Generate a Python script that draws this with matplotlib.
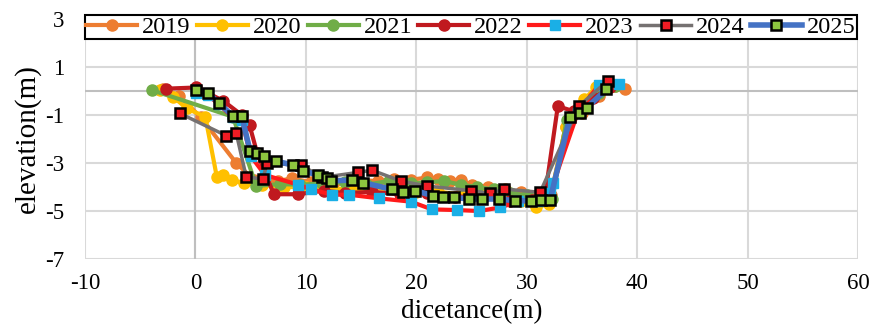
import matplotlib
matplotlib.use("Agg")
import matplotlib.pyplot as plt

plt.rcParams['font.family'] = ['Liberation Serif', 'DejaVu Serif']
plt.rcParams['axes.unicode_minus'] = False

# profile data
x19 = [-2.9, -1.5, 0.5, 3.7, 5.3, 7.5, 8.7, 10.5, 12.5, 14.5, 16.5, 18.0, 19.5, 21.0, 22.0, 23.0, 24.0, 25.0, 26.5, 28.0, 29.5, 31.0, 32.2, 33.5, 35.0, 36.5, 38.0, 38.9]
y19 = [0.1, -0.2, -1.1, -3.0, -3.7, -3.75, -3.64, -3.8, -3.8, -3.7, -3.75, -3.65, -3.7, -3.6, -3.65, -3.75, -3.7, -3.9, -4.0, -4.1, -4.2, -4.4, -4.35, -1.5, -0.9, -0.2, 0.2, 0.1]

x20 = [-3.2, -2.0, -0.8, 0.9, 1.95, 2.5, 3.3, 4.4, 6.0, 8.0, 10.0, 12.0, 14.0, 16.0, 18.0, 20.0, 22.0, 24.0, 26.0, 28.0, 29.5, 30.8, 32.0, 33.5, 35.2, 36.3]
y20 = [0.04, -0.24, -0.72, -1.07, -3.6, -3.5, -3.7, -3.85, -3.9, -4.0, -4.0, -4.05, -4.1, -4.05, -4.1, -4.2, -4.2, -4.3, -4.35, -4.4, -4.6, -4.85, -4.7, -1.5, -0.35, 0.18]

x21 = [-3.95, 3.4, 5.5, 7.7, 9.5, 11.5, 13.5, 15.5, 17.5, 19.5, 21.0, 22.5, 24.0, 25.5, 27.0, 28.5, 30.0, 31.2, 32.3, 33.6, 35.0, 36.5, 38.0]
y21 = [0.04, -1.07, -3.95, -3.88, -3.9, -3.85, -3.8, -3.9, -3.75, -3.85, -3.8, -3.75, -3.9, -4.0, -4.1, -4.25, -4.35, -4.45, -4.5, -1.2, -0.8, -0.1, 0.2]

x22 = [-2.7, 0.1, 2.5, 4.2, 4.9, 5.6, 7.1, 9.3, 11.6, 13.5, 16.0, 18.5, 21.0, 23.5, 26.0, 28.5, 30.5, 31.6, 32.8, 34.3, 36.0, 37.5]
y22 = [0.1, 0.15, -0.4, -1.0, -1.42, -2.6, -4.3, -4.3, -4.15, -4.25, -4.2, -4.3, -4.25, -4.4, -4.4, -4.6, -4.55, -4.5, -0.63, -0.85, -0.3, 0.15]

x23 = [0.1, 1.1, 2.1, 3.4, 4.2, 5.0, 6.3, 9.3, 10.5, 12.4, 13.9, 16.6, 19.5, 21.4, 23.7, 25.7, 27.6, 29.2, 31.0, 32.1, 32.4, 34.6, 36.5, 38.3]
y23 = [-0.1, -0.15, -0.55, -1.1, -1.2, -2.7, -3.5, -3.9, -4.1, -4.32, -4.32, -4.47, -4.61, -4.93, -4.96, -5.0, -4.85, -4.6, -4.6, -4.26, -3.85, -0.9, 0.25, 0.3]

x24 = [-1.4, 2.8, 3.7, 4.6, 6.1, 6.5, 9.6, 11.5, 14.7, 16.0, 18.6, 21.0, 24.9, 26.7, 27.9, 31.2, 34.7, 37.3]
y24 = [-0.93, -1.86, -1.76, -3.57, -3.67, -3.0, -3.1, -3.6, -3.39, -3.3, -3.75, -3.96, -4.15, -4.26, -4.08, -4.22, -0.63, 0.42]

x25 = [0.1, 1.1, 2.1, 3.4, 4.2, 4.95, 5.55, 6.2, 7.3, 8.8, 9.7, 11.1, 11.9, 12.3, 14.2, 15.2, 17.8, 18.8, 19.9, 21.5, 22.4, 23.4, 24.8, 25.9, 27.5, 28.9, 30.4, 31.3, 32.1, 33.9, 34.8, 35.4, 37.2]
y25 = [0.04, -0.06, -0.49, -1.04, -1.04, -2.5, -2.6, -2.7, -2.92, -3.08, -3.32, -3.5, -3.64, -3.74, -3.71, -3.82, -4.1, -4.2, -4.15, -4.36, -4.43, -4.43, -4.5, -4.5, -4.5, -4.57, -4.57, -4.54, -4.54, -1.07, -0.93, -0.7, 0.07]

xticks = [-10, 0, 10, 20, 30, 40, 50, 60]
yticks = [3, 1, -1, -3, -5, -7]

fig = plt.figure(figsize=(8.75, 3.24), dpi=100)
ax = fig.add_axes([0.097, 0.2006, 0.884, 0.7404])

ax.plot(x19, y19, '-o', color='#ED7D31', lw=3, ms=8, label='2019')
ax.plot(x20, y20, '-o', color='#FFC000', lw=3, ms=8, label='2020')
ax.plot(x21, y21, '-o', color='#70AD47', lw=3, ms=8, label='2021')
ax.plot(x22, y22, '-o', color='#C0191F', lw=3, ms=8, label='2022')
ax.plot(x23, y23, '-s', color='#FF1A1A', lw=3, ms=7.5, mfc='#1AAFE6', mec='#1AAFE6', label='2023')
ax.plot(x24, y24, '-s', color='#757171', lw=2.5, ms=7, mfc='#F01C24', mec='black', mew=1.8, label='2024')
ax.plot(x25, y25, '-s', color='#4472C4', lw=4, ms=7, mfc='#8DC63F', mec='black', mew=1.8, label='2025')

ax.set_xlim(-10, 60)
ax.set_ylim(-7, 3)
ax.set_xticks(xticks)
ax.set_yticks(yticks)
ax.grid(True, color='#D9D9D9', lw=1.5)
ax.axhline(0, color='#BFBFBF', lw=1.5, zorder=1)
ax.axvline(0, color='#BFBFBF', lw=1.5, zorder=1)
ax.set_axisbelow(True)
for s in ax.spines.values():
    s.set_visible(False)
ax.tick_params(length=0, labelsize=16.5)
ax.tick_params(axis='y', pad=15)
ax.tick_params(axis='x', pad=10)

ax.set_xlabel('dicetance(m)', fontsize=19.5)
ax.xaxis.set_label_coords(0.5, -0.27)
ax.xaxis.label.set_va('bottom')
ax.set_ylabel('elevation(m)', fontsize=21)
ax.yaxis.set_label_coords(-0.074, 0.5)
ax.yaxis.label.set_va('center')

leg = ax.legend(ncol=7, loc='center', bbox_to_anchor=(0, 0.9125, 0.998, 0.108),
                mode='expand', fontsize=17.5, frameon=True, fancybox=False,
                framealpha=1, edgecolor='black', handlelength=2.1,
                handletextpad=0.2, columnspacing=0.5, borderpad=0.05,
                borderaxespad=0)
leg.get_frame().set_linewidth(1.5)

fig.savefig('out.png', dpi=100)
